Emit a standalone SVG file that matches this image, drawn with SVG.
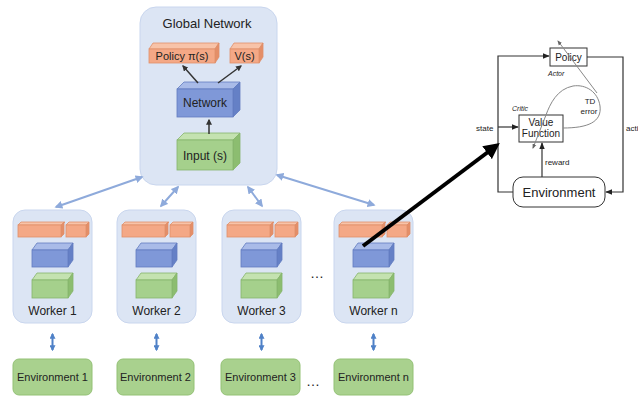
<svg xmlns="http://www.w3.org/2000/svg" width="638" height="396" viewBox="0 0 638 396">
<defs>
<style>
text{font-family:"Liberation Sans",Arial,sans-serif;fill:#222}
.panel{fill:#dce5f4;stroke:#c9d6ee;stroke-width:1}
.of{fill:#f4a886;stroke:#e08f6a;stroke-width:0.8}
.ot{fill:#f8c3a8;stroke:#e08f6a;stroke-width:0.8}
.os{fill:#e48e68;stroke:#e08f6a;stroke-width:0.8}
.bf{fill:#7f98d8;stroke:#627cc0;stroke-width:0.8}
.bt{fill:#a9bbe8;stroke:#627cc0;stroke-width:0.8}
.bs{fill:#6580c6;stroke:#627cc0;stroke-width:0.8}
.gf{fill:#a5d08c;stroke:#86b56c;stroke-width:0.8}
.gt{fill:#c4e2b0;stroke:#86b56c;stroke-width:0.8}
.gs{fill:#8cbd70;stroke:#86b56c;stroke-width:0.8}
.env{fill:#a9d18e;stroke:#93c175;stroke-width:1}
.lbl{font-size:12px;text-anchor:middle}
.elbl{font-size:11px;text-anchor:middle}
.pale{stroke:#8eaadb;stroke-width:2;fill:none;marker-start:url(#pa);marker-end:url(#pa)}
.vv{stroke:#4f81c7;stroke-width:2;fill:none;marker-start:url(#va);marker-end:url(#va)}
.ac{stroke:#333;stroke-width:1.2;fill:none;marker-end:url(#ka)}
.gl{stroke:#888;stroke-width:1;fill:none}
.sm{font-size:8px}
.it{font-size:7px;font-style:italic}
</style>
<marker id="pa" viewBox="0 0 10 10" refX="8" refY="5" markerWidth="4" markerHeight="4" orient="auto-start-reverse"><path d="M0,0 L10,5 L0,10 z" fill="#8eaadb"/></marker>
<marker id="va" viewBox="0 0 10 10" refX="8" refY="5" markerWidth="3" markerHeight="3" orient="auto-start-reverse"><path d="M0,0 L10,5 L0,10 z" fill="#4f81c7"/></marker>
<marker id="ka" viewBox="0 0 10 10" refX="9" refY="5" markerWidth="6" markerHeight="6" orient="auto"><path d="M0,1 L10,5 L0,9 z" fill="#222"/></marker>
<marker id="da" viewBox="0 0 10 10" refX="8" refY="5" markerWidth="4" markerHeight="4" orient="auto"><path d="M0,0 L10,5 L0,10 z" fill="#333"/></marker>
<marker id="ga" viewBox="0 0 10 10" refX="8" refY="5" markerWidth="5" markerHeight="5" orient="auto-start-reverse"><path d="M0,1 L10,5 L0,9 z" fill="#666"/></marker>
<marker id="big" viewBox="0 0 10 10" refX="7" refY="5" markerWidth="4" markerHeight="4" orient="auto"><path d="M0,0 L10,5 L0,10 z" fill="#000"/></marker>
<g id="wk">
<polygon class="ot" points="5,12 8,9 52,9 49,12"/><polygon class="os" points="48,12 51,9 51,21 48,24"/><rect class="of" x="5" y="12" width="43" height="12"/>
<polygon class="ot" points="53,12 56,9 76,9 73,12"/><polygon class="os" points="73,12 76,9 76,21 73,24"/><rect class="of" x="53" y="12" width="20" height="12"/>
<polygon class="bt" points="19,37 24,30 60,30 55,37"/><polygon class="bs" points="55,37 60,30 60,47 55,54"/><rect class="bf" x="19" y="37" width="36" height="17"/>
<polygon class="gt" points="19,67 24,60 60,60 55,67"/><polygon class="gs" points="55,67 60,60 60,78 55,85"/><rect class="gf" x="19" y="67" width="36" height="18"/>
</g>
</defs>
<rect width="638" height="396" fill="#fff"/>

<g id="global">
<rect class="panel" x="140" y="7" width="137" height="178" rx="16"/>
<text x="207" y="28" style="font-size:13px;text-anchor:middle">Global Network</text>
<g id="policy">
<polygon class="ot" points="149,49 153,43 219,43 215,49"/><polygon class="os" points="215,49 219,43 219,57 215,63"/><rect class="of" x="149" y="49" width="66" height="14"/>
<text x="182" y="60" style="font-size:11px;text-anchor:middle">Policy π(s)</text>
</g>
<g id="value">
<polygon class="ot" points="230,49 234,43 263,43 259,49"/><polygon class="os" points="259,49 263,43 263,57 259,63"/><rect class="of" x="230" y="49" width="29" height="14"/>
<text x="244.5" y="60" style="font-size:11px;text-anchor:middle">V(s)</text>
</g>
<g id="network">
<polygon class="bt" points="177,89 184,82 240,82 233,89"/><polygon class="bs" points="233,89 240,82 240,110 233,117"/><rect class="bf" x="177" y="89" width="56" height="28"/>
<text x="205" y="107" class="lbl">Network</text>
</g>
<g id="input">
<polygon class="gt" points="177,140 184,133 240,133 233,140"/><polygon class="gs" points="233,140 240,133 240,163 233,170"/><rect class="gf" x="177" y="140" width="56" height="30"/>
<text x="205" y="160" class="lbl">Input (s)</text>
</g>
<g stroke="#333" stroke-width="1.5" fill="none" marker-end="url(#da)">
<line x1="198" y1="83" x2="183" y2="66"/>
<line x1="218" y1="83" x2="241" y2="66"/>
<line x1="209" y1="134" x2="209" y2="120"/>
</g>
</g>

<g id="worker1"><rect class="panel" x="13" y="210" width="79" height="113" rx="12"/><use href="#wk" x="13" y="213"/><text x="52.5" y="315" class="lbl">Worker 1</text></g>
<g id="worker2"><rect class="panel" x="117" y="210" width="79" height="113" rx="12"/><use href="#wk" x="117" y="213"/><text x="156.5" y="315" class="lbl">Worker 2</text></g>
<g id="worker3"><rect class="panel" x="222" y="210" width="79" height="113" rx="12"/><use href="#wk" x="222" y="213"/><text x="261.5" y="315" class="lbl">Worker 3</text></g>
<g id="workern"><rect class="panel" x="334" y="210" width="79" height="113" rx="12"/><use href="#wk" x="334" y="213"/><text x="373.5" y="315" class="lbl">Worker n</text></g>
<text x="317" y="278" style="font-size:14px;text-anchor:middle">…</text>

<g id="env1"><rect class="env" x="13" y="359" width="79" height="36" rx="6"/><text x="52.5" y="381" class="elbl">Environment 1</text></g>
<g id="env2"><rect class="env" x="117" y="359" width="77" height="36" rx="6"/><text x="155.5" y="381" class="elbl">Environment 2</text></g>
<g id="env3"><rect class="env" x="221" y="359" width="79" height="36" rx="6"/><text x="260.5" y="381" class="elbl">Environment 3</text></g>
<g id="envn"><rect class="env" x="334" y="359" width="79" height="36" rx="6"/><text x="373.5" y="381" class="elbl">Environment n</text></g>
<text x="313" y="386" style="font-size:14px;text-anchor:middle">…</text>

<g id="actor-critic">
<g id="ac-policy"><rect x="550" y="48" width="37" height="18" fill="#fff" stroke="#333" stroke-width="1"/><text x="568.5" y="61" style="font-size:10px;text-anchor:middle">Policy</text></g>
<text x="548" y="76" class="it">Actor</text>
<g id="ac-vf"><rect x="519" y="115" width="44" height="27" fill="#fff" stroke="#333" stroke-width="1"/><text x="541" y="126" style="font-size:10px;text-anchor:middle">Value</text><text x="541" y="137" style="font-size:10px;text-anchor:middle">Function</text></g>
<text x="512" y="111" class="it">Critic</text>
<g id="ac-env"><rect x="513" y="177" width="92" height="30" rx="10" fill="#fff" stroke="#333" stroke-width="1"/><text x="559" y="197" style="font-size:13px;text-anchor:middle">Environment</text></g>
<text x="476" y="131" class="sm">state</text>
<text x="545" y="165" class="sm">reward</text>
<text x="590" y="104" class="sm" text-anchor="middle">TD</text>
<text x="589" y="114" class="sm" text-anchor="middle">error</text>
<text x="626" y="131" class="sm">acti</text>
</g>

<g id="connectors">
<line class="pale" x1="142" y1="177" x2="56" y2="207"/>
<line class="pale" x1="178" y1="187" x2="161" y2="206"/>
<line class="pale" x1="248" y1="187" x2="262" y2="206"/>
<line class="pale" x1="277" y1="175" x2="374" y2="205"/>
<line class="vv" x1="52.5" y1="334" x2="52.5" y2="350"/>
<line class="vv" x1="156.5" y1="334" x2="156.5" y2="350"/>
<line class="vv" x1="261.5" y1="334" x2="261.5" y2="350"/>
<line class="vv" x1="373.5" y1="334" x2="373.5" y2="350"/>
<path class="ac" d="M513,192 H498 V56 H549"/>
<path class="ac" d="M498,127 H518"/>
<path class="ac" d="M587,57 H623 V192 H606"/>
<path class="ac" d="M542,177 V143"/>
<path class="gl" d="M563,128 C588,128 602,122 600,106 C598,92 586,84 573,86 C557,89 550,104 546,115 L533,148" marker-end="url(#ga)"/>
<path class="gl" d="M597,93 L558,41" marker-end="url(#ga)"/>
<line x1="363" y1="246" x2="496" y2="146" stroke="#000" stroke-width="4" marker-end="url(#big)"/>
</g>
</svg>
